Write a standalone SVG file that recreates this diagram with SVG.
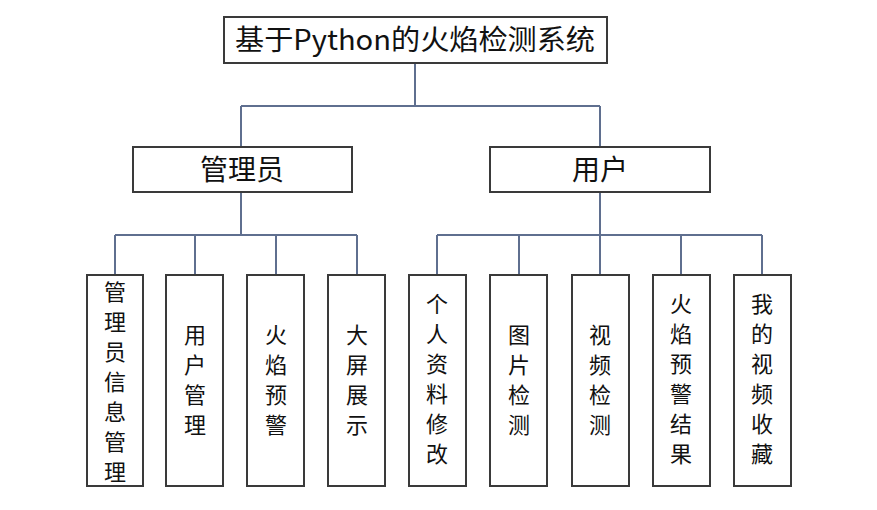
<svg xmlns="http://www.w3.org/2000/svg" width="877" height="510" viewBox="0 0 877 510">
<style>
.box{fill:#fff;stroke:#3a3a3a;stroke-width:2}
.conn{stroke:#5f6f8f;stroke-width:2;fill:none}
text{font-family:"Noto Sans CJK SC","Noto Sans",sans-serif;fill:#111;text-anchor:middle}
.leaf{font-size:22px}
.mid{font-size:28px}
</style>
<rect width="877" height="510" fill="#fff"/>
<g id="connectors">
<path class="conn" d="M415,63V106M241,106H600M241,106V147M600,106V147"/>
<path class="conn" d="M241,192V235M115,235H357M115,235V275M195,235V275M276,235V275M357,235V275"/>
<path class="conn" d="M600,192V235M437,235H762M437,235V275M519,235V275M600,235V275M681,235V275M762,235V275"/>
</g>
<g id="root">
<rect class="box" x="224" y="17" width="383" height="46"/>
<text x="415" y="50" font-size="28" textLength="360" lengthAdjust="spacingAndGlyphs">基于Python的火焰检测系统</text>
</g>
<g id="admin">
<rect class="box" x="133" y="147" width="219" height="45"/>
<text class="mid" x="242" y="180">管理员</text>
</g>
<g id="user">
<rect class="box" x="490" y="147" width="220" height="45"/>
<text class="mid" x="600" y="180">用户</text>
</g>
<g id="n1">
<rect class="box" x="87" y="275" width="56" height="211"/>
<text class="leaf" x="115"><tspan x="115" y="300">管</tspan><tspan x="115" y="330">理</tspan><tspan x="115" y="360">员</tspan><tspan x="115" y="390">信</tspan><tspan x="115" y="420">息</tspan><tspan x="115" y="450">管</tspan><tspan x="115" y="480">理</tspan></text>
</g>
<g id="n2">
<rect class="box" x="166" y="275" width="57" height="211"/>
<text class="leaf"><tspan x="195" y="343">用</tspan><tspan x="195" y="373">户</tspan><tspan x="195" y="403">管</tspan><tspan x="195" y="433">理</tspan></text>
</g>
<g id="n3">
<rect class="box" x="247" y="275" width="57" height="211"/>
<text class="leaf"><tspan x="276" y="343">火</tspan><tspan x="276" y="373">焰</tspan><tspan x="276" y="403">预</tspan><tspan x="276" y="433">警</tspan></text>
</g>
<g id="n4">
<rect class="box" x="328" y="275" width="57" height="211"/>
<text class="leaf"><tspan x="357" y="343">大</tspan><tspan x="357" y="373">屏</tspan><tspan x="357" y="403">展</tspan><tspan x="357" y="433">示</tspan></text>
</g>
<g id="n5">
<rect class="box" x="409" y="275" width="57" height="211"/>
<text class="leaf"><tspan x="437" y="312">个</tspan><tspan x="437" y="342">人</tspan><tspan x="437" y="372">资</tspan><tspan x="437" y="402">料</tspan><tspan x="437" y="432">修</tspan><tspan x="437" y="462">改</tspan></text>
</g>
<g id="n6">
<rect class="box" x="490" y="275" width="57" height="211"/>
<text class="leaf"><tspan x="519" y="343">图</tspan><tspan x="519" y="373">片</tspan><tspan x="519" y="403">检</tspan><tspan x="519" y="433">测</tspan></text>
</g>
<g id="n7">
<rect class="box" x="572" y="275" width="57" height="211"/>
<text class="leaf"><tspan x="600" y="343">视</tspan><tspan x="600" y="373">频</tspan><tspan x="600" y="403">检</tspan><tspan x="600" y="433">测</tspan></text>
</g>
<g id="n8">
<rect class="box" x="653" y="275" width="57" height="211"/>
<text class="leaf"><tspan x="681" y="312">火</tspan><tspan x="681" y="342">焰</tspan><tspan x="681" y="372">预</tspan><tspan x="681" y="402">警</tspan><tspan x="681" y="432">结</tspan><tspan x="681" y="462">果</tspan></text>
</g>
<g id="n9">
<rect class="box" x="734" y="275" width="57" height="211"/>
<text class="leaf"><tspan x="762" y="312">我</tspan><tspan x="762" y="342">的</tspan><tspan x="762" y="372">视</tspan><tspan x="762" y="402">频</tspan><tspan x="762" y="432">收</tspan><tspan x="762" y="462">藏</tspan></text>
</g>
</svg>
